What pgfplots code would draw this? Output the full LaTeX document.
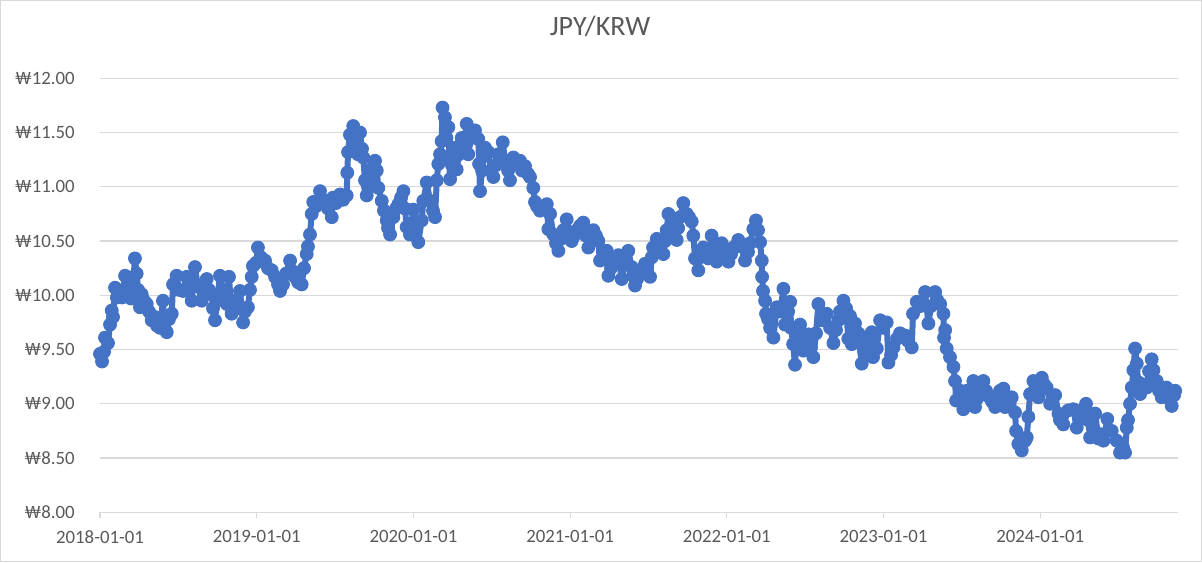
\documentclass[border=0pt]{standalone}
\usepackage{pgfplots}
\pgfplotsset{compat=1.18}
\usepackage{fontspec}
\setmainfont{Carlito}
\definecolor{series}{HTML}{4472C4}
\definecolor{gridc}{HTML}{D9D9D9}
\definecolor{txt}{HTML}{595959}
% t = years since 2018-01-01, v = KRW per JPY
\pgfplotstableread{
t v
0.000 9.46
0.013 9.39
0.026 9.48
0.032 9.61
0.051 9.56
0.064 9.73
0.075 9.86
0.083 9.80
0.096 10.07
0.108 9.98
0.128 10.04
0.140 9.98
0.160 10.18
0.179 10.05
0.191 10.14
0.198 9.97
0.211 10.10
0.223 10.34
0.234 10.20
0.243 10.05
0.255 9.89
0.266 10.01
0.281 9.95
0.298 9.92
0.313 9.85
0.330 9.77
0.351 9.80
0.364 9.72
0.383 9.70
0.402 9.95
0.408 9.80
0.426 9.66
0.440 9.78
0.458 9.83
0.466 10.10
0.489 10.18
0.504 10.05
0.530 10.04
0.553 10.17
0.568 10.05
0.585 9.95
0.606 10.26
0.625 10.08
0.649 9.95
0.664 10.05
0.681 10.15
0.696 10.05
0.713 10.01
0.721 9.88
0.734 9.77
0.747 9.95
0.766 10.18
0.785 10.05
0.809 9.92
0.823 10.17
0.840 9.83
0.862 9.95
0.874 9.88
0.893 10.04
0.913 9.75
0.925 9.85
0.944 9.89
0.957 10.05
0.968 10.17
0.976 10.27
0.996 10.30
1.008 10.44
1.027 10.35
1.053 10.32
1.072 10.25
1.096 10.23
1.117 10.17
1.136 10.10
1.149 10.04
1.168 10.10
1.187 10.20
1.213 10.32
1.232 10.22
1.244 10.17
1.264 10.12
1.287 10.10
1.302 10.25
1.319 10.38
1.327 10.45
1.340 10.56
1.351 10.75
1.361 10.86
1.378 10.82
1.404 10.96
1.423 10.88
1.436 10.84
1.455 10.80
1.479 10.72
1.487 10.90
1.506 10.85
1.532 10.93
1.551 10.88
1.574 10.92
1.578 11.13
1.583 11.32
1.595 11.48
1.616 11.56
1.627 11.42
1.638 11.39
1.646 11.30
1.659 11.50
1.672 11.35
1.680 11.27
1.691 11.06
1.702 10.92
1.710 11.00
1.723 11.09
1.742 11.18
1.755 11.24
1.766 11.15
1.776 10.99
1.798 10.87
1.812 10.78
1.830 10.69
1.838 10.62
1.851 10.56
1.872 10.72
1.889 10.80
1.904 10.84
1.921 10.90
1.936 10.96
1.946 10.80
1.957 10.63
1.978 10.56
1.999 10.79
2.017 10.65
2.031 10.49
2.053 10.69
2.063 10.87
2.085 11.04
2.106 10.87
2.125 10.78
2.138 10.72
2.149 11.06
2.159 11.21
2.170 11.30
2.180 11.42
2.186 11.73
2.201 11.64
2.211 11.45
2.223 11.55
2.227 11.25
2.234 11.07
2.246 11.20
2.265 11.36
2.276 11.16
2.291 11.30
2.308 11.45
2.323 11.40
2.340 11.58
2.350 11.30
2.368 11.45
2.393 11.52
2.414 11.44
2.419 11.21
2.425 10.96
2.438 11.15
2.457 11.36
2.478 11.32
2.495 11.15
2.510 11.09
2.527 11.20
2.542 11.30
2.570 11.41
2.585 11.24
2.604 11.15
2.616 11.06
2.638 11.27
2.661 11.22
2.680 11.24
2.693 11.15
2.712 11.19
2.731 11.12
2.744 11.09
2.765 10.99
2.776 10.86
2.789 10.82
2.808 10.78
2.827 10.82
2.851 10.84
2.861 10.61
2.872 10.75
2.893 10.56
2.910 10.48
2.925 10.41
2.942 10.52
2.957 10.60
2.978 10.70
2.993 10.58
3.010 10.50
3.025 10.55
3.042 10.60
3.063 10.64
3.084 10.67
3.101 10.55
3.116 10.44
3.133 10.52
3.148 10.60
3.165 10.55
3.180 10.50
3.191 10.32
3.210 10.40
3.234 10.41
3.244 10.18
3.261 10.25
3.276 10.29
3.293 10.33
3.308 10.37
3.329 10.15
3.350 10.29
3.371 10.41
3.393 10.26
3.401 10.18
3.414 10.09
3.427 10.15
3.446 10.23
3.478 10.29
3.491 10.22
3.510 10.17
3.521 10.35
3.529 10.44
3.553 10.52
3.574 10.42
3.595 10.38
3.606 10.50
3.616 10.60
3.627 10.75
3.648 10.66
3.663 10.58
3.680 10.51
3.689 10.62
3.701 10.72
3.722 10.85
3.744 10.75
3.759 10.72
3.776 10.68
3.786 10.55
3.797 10.34
3.818 10.23
3.829 10.35
3.850 10.44
3.867 10.40
3.882 10.34
3.903 10.55
3.918 10.40
3.935 10.31
3.950 10.40
3.967 10.48
3.988 10.40
4.010 10.31
4.027 10.38
4.041 10.44
4.073 10.51
4.091 10.45
4.116 10.32
4.135 10.40
4.148 10.48
4.169 10.61
4.186 10.69
4.199 10.60
4.212 10.49
4.223 10.32
4.225 10.17
4.231 10.04
4.244 9.95
4.250 9.83
4.263 9.78
4.276 9.70
4.297 9.61
4.319 9.89
4.340 9.85
4.361 10.06
4.371 9.73
4.391 9.85
4.404 9.94
4.410 9.70
4.423 9.55
4.435 9.36
4.446 9.61
4.467 9.73
4.488 9.49
4.505 9.58
4.520 9.64
4.537 9.52
4.552 9.43
4.569 9.65
4.584 9.92
4.606 9.77
4.620 9.80
4.637 9.83
4.659 9.70
4.680 9.56
4.697 9.68
4.712 9.77
4.722 9.85
4.744 9.95
4.761 9.88
4.775 9.60
4.786 9.81
4.797 9.55
4.818 9.74
4.839 9.65
4.861 9.37
4.876 9.48
4.893 9.55
4.907 9.62
4.925 9.66
4.933 9.43
4.957 9.51
4.978 9.77
4.997 9.70
5.020 9.75
5.031 9.38
5.048 9.45
5.063 9.52
5.086 9.60
5.105 9.65
5.137 9.63
5.156 9.58
5.180 9.52
5.188 9.83
5.212 9.94
5.233 9.90
5.265 10.03
5.286 9.74
5.303 9.90
5.329 10.03
5.341 9.96
5.361 9.92
5.382 9.83
5.386 9.61
5.393 9.68
5.403 9.51
5.424 9.43
5.446 9.34
5.456 9.21
5.463 9.03
5.488 9.12
5.509 8.95
5.531 9.12
5.552 9.05
5.573 9.21
5.584 8.97
5.597 9.05
5.616 9.12
5.637 9.21
5.654 9.12
5.669 9.07
5.692 9.02
5.712 8.97
5.722 9.06
5.743 9.12
5.765 9.14
5.775 8.97
5.794 9.04
5.807 9.03
5.818 9.06
5.839 8.92
5.846 8.75
5.860 8.63
5.882 8.57
5.903 8.66
5.914 8.69
5.924 8.88
5.935 9.09
5.956 9.21
5.978 9.12
5.988 9.06
6.010 9.24
6.024 9.18
6.041 9.15
6.063 9.00
6.095 9.08
6.116 8.91
6.126 8.85
6.147 8.81
6.179 8.94
6.211 8.95
6.233 8.78
6.248 8.86
6.265 8.94
6.292 9.00
6.305 8.85
6.318 8.69
6.350 8.91
6.371 8.68
6.388 8.72
6.403 8.66
6.428 8.86
6.456 8.75
6.488 8.66
6.509 8.55
6.528 8.60
6.541 8.55
6.552 8.78
6.560 8.85
6.573 9.00
6.584 9.15
6.594 9.31
6.605 9.51
6.616 9.37
6.624 9.20
6.637 9.09
6.656 9.18
6.680 9.15
6.694 9.30
6.711 9.41
6.722 9.31
6.743 9.21
6.758 9.12
6.775 9.06
6.790 9.10
6.805 9.15
6.822 9.05
6.839 8.98
6.854 9.08
6.861 9.12
}\rates
\begin{document}
\begin{tikzpicture}
\path[use as bounding box] (-50pt,-24.85pt) rectangle (551pt,256.15pt);
\draw[gridc, line width=0.6pt] (-49.7pt,-24.55pt) rectangle (550.7pt,255.85pt);
\begin{axis}[
  at={(0,0)}, anchor=south west,
  scale only axis, width=539pt, height=217pt,
  xmin=0, xmax=6.879, ymin=8, ymax=12,
  clip=false,
  xtick={0,1,2,3,4,5,6},
  xticklabels={2018-01-01,2019-01-01,2020-01-01,2021-01-01,2022-01-01,2023-01-01,2024-01-01},
  ytick={8,8.5,9,9.5,10,10.5,11,11.5,12},
  yticklabel={₩\pgfmathprintnumber[fixed,fixed zerofill,precision=2]{\tick}},
  /pgf/number format/assume math mode=true,
  ymajorgrids, grid style={gridc, line width=0.6pt},
  axis x line*=bottom, axis y line*=left,
  x axis line style={gridc, line width=0.6pt},
  y axis line style={draw=none},
  xtick style={gridc, line width=0.6pt},
  ytick style={draw=none},
  tick align=outside, major tick length=2.6pt,
  ticklabel style={font=\fontsize{9.4pt}{11pt}\selectfont, text=txt},
  y tick label style={xshift=-6.5pt},
  x tick label style={yshift=-3pt},
  title={JPY/KRW},
  title style={at={(0.4638,1.0929)}, anchor=center, font=\fontsize{14pt}{16pt}\selectfont, text=txt},
]
\addplot[series, line width=3pt, line join=round, line cap=round, mark=*, mark size=3.2pt, mark options={fill=series, draw=series, line width=0.5pt}] table[x=t, y=v] {\rates};
\end{axis}
\end{tikzpicture}
\end{document}
